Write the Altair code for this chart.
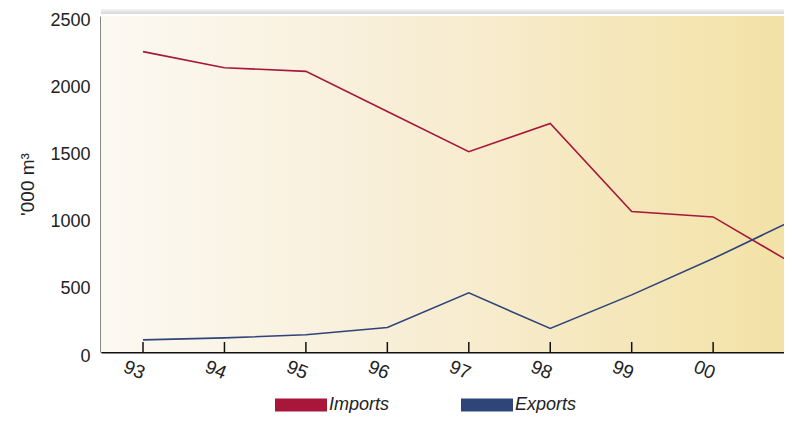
import json
import altair as alt
import pandas as pd

years = ["93", "94", "95", "96", "97", "98", "99", "00", "01"]
imports = [2235, 2115, 2088, 1790, 1490, 1700, 1045, 1005, 650]
exports = [90, 105, 128, 182, 440, 175, 425, 695, 985]
series_names = ["Imports", "Exports"]
series_colors = ["#A8163A", "#2F4478"]
y_ticks = [0, 500, 1000, 1500, 2000, 2500]

W, H = 683, 336

rows = []
for i, y in enumerate(years):
    rows.append({"idx": i, "year": y, "series": "Imports", "value": imports[i]})
    rows.append({"idx": i, "year": y, "series": "Exports", "value": exports[i]})
df = pd.DataFrame(rows)
ticks_df = pd.DataFrame({"idx": list(range(len(years)))})
one = pd.DataFrame({"a": [0]})

label_expr = json.dumps(years) + "[datum.value]"
xscale = alt.Scale(domain=[-0.5157, 7.870], nice=False, zero=False)
yscale = alt.Scale(domain=[0, 2500], nice=False)
cscale = alt.Scale(domain=series_names, range=series_colors)

bg = alt.Chart(one).mark_rect(
    color=alt.LinearGradient(
        gradient="linear", x1=0, x2=1, y1=0, y2=0,
        stops=[
            alt.GradientStop(color="#FCF9F3", offset=0),
            alt.GradientStop(color="#F8EED6", offset=0.45),
            alt.GradientStop(color="#F3E2A6", offset=1),
        ],
    )
).encode(x=alt.value(0), x2=alt.value(W), y=alt.value(0), y2=alt.value(H))

shadow = alt.Chart(one).mark_rect(
    color=alt.LinearGradient(
        gradient="linear", x1=0, x2=0, y1=0, y2=1,
        stops=[
            alt.GradientStop(color="#F4F4F4", offset=0),
            alt.GradientStop(color="#D6D6D6", offset=1),
        ],
    )
).encode(x=alt.value(0), x2=alt.value(W), y=alt.value(-7), y2=alt.value(-2))

lines = alt.Chart(df).mark_line(clip=True, strokeWidth=1.6).encode(
    x=alt.X("idx:Q", scale=xscale,
            axis=alt.Axis(values=list(range(len(years) - 1)), labelExpr=label_expr,
                          title=None, ticks=False, grid=False,
                          labelAngle=22, labelAlign="right", labelBaseline="top",
                          labelPadding=13, labelOffset=4,
                          domainColor="#111111", domainWidth=2,
                          labelFontSize=19, labelColor="#222222")),
    y=alt.Y("value:Q", scale=yscale,
            axis=alt.Axis(values=y_ticks, format="d", title="'000 m³", ticks=False,
                          grid=True, gridColor="#FFFFFF", gridWidth=2,
                          domainColor="#111111", domainWidth=2,
                          labelFontSize=18, labelColor="#222222", labelPadding=11,
                          labelOffset=4,
                          titleFontSize=19, titleFontWeight="normal",
                          titleColor="#222222", titlePadding=12)),
    stroke=alt.Stroke("series:N", scale=cscale, legend=None),
    detail="series:N",
)

# off-plot (clipped) points of the last year carry the filled legend swatches
legend_layer = alt.Chart(df).transform_filter("datum.idx == 8").transform_calculate(
    key="datum.series"
).mark_point(filled=True, clip=True).encode(
    x=alt.X("idx:Q", scale=xscale),
    y=alt.Y("value:Q", scale=yscale),
    fill=alt.Fill("key:N", scale=alt.Scale(domain=series_names, range=series_colors),
                  legend=alt.Legend(orient="none", legendX=174, legendY=363,
                                    direction="horizontal", title=None,
                                    symbolType="M-1,-0.25H1V0.25H-1Z",
                                    symbolSize=2704, symbolStrokeWidth=0,
                                    symbolOpacity=1,
                                    labelFontSize=18,
                                    labelFontStyle="italic", labelColor="#222222",
                                    labelOffset=2, columnPadding=71, padding=0)),
)

tick_marks = alt.Chart(ticks_df).transform_filter("datum.idx < 8").mark_rule(
    color="#111111", strokeWidth=1.5
).encode(x=alt.X("idx:Q", scale=xscale), y=alt.value(H - 10), y2=alt.value(H))

chart = alt.layer(bg, shadow, lines, legend_layer, tick_marks).properties(
    width=W, height=H,
    autosize=alt.AutoSizeParams(type="none"),
    padding={"left": 93, "top": 8, "right": 0, "bottom": 61},
).resolve_scale(fill="independent", stroke="independent").configure(
    font="Liberation Sans",
).configure_view(stroke=None).configure_axis(
    labelFont="Liberation Sans"
)

chart.save("out.html", embed_options={"renderer": "svg", "actions": False})
